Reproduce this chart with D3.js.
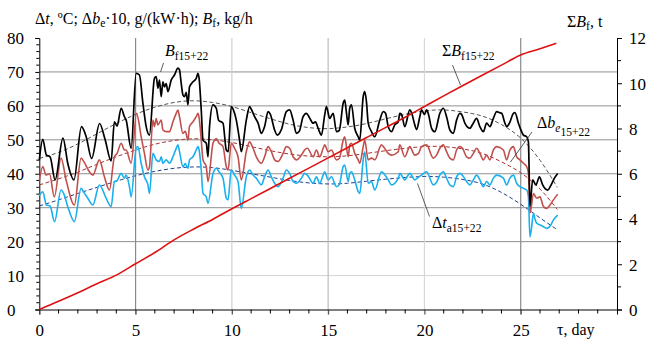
<!DOCTYPE html>
<html><head><meta charset="utf-8">
<script src="https://cdn.jsdelivr.net/npm/d3@7"></script>
<style>
html,body{margin:0;padding:0;background:#fff;}
svg text, svg tspan{font-family:"Liberation Serif","Times New Roman","DejaVu Serif",serif !important;}
</style></head>
<body>
<svg id="c" width="664" height="343" font-family="Liberation Serif, serif"></svg>
<script>
// ---------- DATA ----------
const xTicks = [0,5,10,15,20,25];
const yTicks = [0,10,20,30,40,50,60,70,80];
const yRTicks = [0,2,4,6,8,10,12];

// B_f (kg/h) black
const bDay = [0,0.18,0.37,0.56,0.82,1.23,1.48,1.80,2.19,2.43,
2.72,3.13,3.42,3.73,3.90,4.04,4.25,4.42,4.51,4.77,
5.03,5.20,5.38,5.55,5.72,5.98,6.07,6.16,6.24,6.33,
6.42,6.50,6.59,6.68,6.85,7.02,7.20,7.28,7.37,7.46,
7.54,7.63,7.72,7.80,7.98,8.15,8.24,8.30,8.41,8.50,
8.67,8.76,8.84,9.02,9.19,9.31,9.54,9.71,9.81,9.97,
10.14,10.23,10.40,10.49,10.75,10.92,11.01,11.18,11.36,11.53,
11.70,11.88,12.00,12.22,12.36,12.57,12.83,13.00,13.18,13.35,
13.50,13.70,13.87,14.03,14.22,14.34,14.48,14.65,14.82,14.91,
15.08,15.26,15.43,15.58,15.78,15.86,15.95,16.04,16.12,16.21,
16.38,16.56,16.64,16.82,16.90,16.99,17.08,17.25,17.42,17.68,
17.86,17.98,18.12,18.29,18.46,18.64,18.72,18.81,18.98,19.24,
19.33,19.50,19.59,19.76,19.85,20.00,20.11,20.21,20.37,20.54,
20.80,20.98,21.15,21.32,21.50,21.67,21.84,21.93,22.10,22.36,
22.50,22.71,22.88,23.06,23.23,23.40,23.58,23.75,23.90,24.01,
24.18,24.27,24.42,24.62,24.70,24.88,25.00,25.14,25.31,25.40,
25.48,25.62,25.79,25.97,26.14,26.40,26.56,26.75,26.92];
const bVal = [44,50.1,45.5,45,38.2,50.5,43,38.2,53.9,51,
44.5,54.8,50,43.8,55.3,54,59.3,56.8,55.8,47.5,
69.6,69.1,60.8,53.9,51.4,68.1,68.6,65.2,67.6,62.7,
67.1,65.6,66.6,64.2,67.6,69.1,71.1,70.6,66.6,63.2,
62.7,64,60.3,65.6,67.1,68.1,69.6,68,58.8,49.9,
49,45,53.9,60.3,59.3,55.8,54.9,47,46.5,59.8,
57.8,55.8,49.9,46.5,55.8,59.8,59,56.8,54.9,51.9,
53.9,58.3,57.5,52.9,51.4,53,58.3,58.8,55.8,51.9,
52.5,56.8,57.8,56.5,54.9,55.3,53.4,51.4,57.3,59.8,
56.3,57.8,52.4,52.8,60.8,61.7,58,54.4,59.3,60.3,
53.4,50.9,49.9,62.7,64.2,61.2,54.9,52.4,50.9,55.8,
58.3,57.8,53.9,52.4,54.4,55.3,57.8,57.5,53.9,58.8,
58,54.4,53,56.8,58.8,57.5,58.8,57.5,53.4,52.4,
57.8,59.3,56.8,52.9,51.9,55.8,57.8,57.5,54.9,53.4,
54.5,56.3,53.9,52.4,54.9,53.9,56.3,58.3,58,57.8,
54.9,53.9,55,57.8,58,54.9,53,51.4,50.9,49.4,
30.5,38.2,36.7,39.1,36.7,35.2,36.5,38.7,40.1];

// Δb_e·10 red
const rDay = [0,0.18,0.35,0.53,0.78,1.13,1.39,1.82,2.17,2.32,
2.60,2.78,3.12,3.38,3.64,3.90,4.04,4.25,4.42,4.51,
4.77,5.05,5.29,5.46,5.64,5.72,5.90,5.98,6.07,6.16,
6.33,6.42,6.59,6.76,6.94,7.11,7.20,7.28,7.46,7.58,
7.72,7.80,7.98,8.15,8.24,8.30,8.41,8.50,8.67,8.76,
9.02,9.10,9.19,9.34,9.54,9.71,9.80,9.97,10.14,10.32,
10.49,10.75,10.92,11.10,11.27,11.53,11.70,11.88,12.05,12.22,
12.40,12.66,12.83,13.00,13.18,13.35,13.61,13.78,13.92,14.22,
14.39,14.56,14.74,14.82,15.00,15.17,15.43,15.58,15.78,15.86,
16.04,16.12,16.21,16.38,16.56,16.64,16.82,16.90,17.08,17.25,
17.42,17.77,17.93,18.12,18.29,18.64,18.72,18.98,19.24,19.50,
19.69,19.85,20.11,20.46,20.63,20.80,20.98,21.15,21.32,21.50,
21.67,21.84,21.98,22.19,22.36,22.54,22.71,22.88,23.06,23.23,
23.40,23.58,23.75,24.10,24.27,24.44,24.62,24.79,24.96,25.14,
25.31,25.40,25.49,25.66,25.83,26.00,26.18,26.35,26.52,26.70,
26.92];
const rVal = [38,42.1,39.6,40,33.2,44.6,38.2,30.8,44.6,43.5,
40.6,39.6,44.1,39.1,35.2,45,46,49,47,47,
43.1,57.8,50.9,46,41.1,42,55.8,53.9,56.3,54.4,
55.8,52.9,52.4,52.4,55.3,57.8,58.8,56.8,51.9,52.5,
49.9,53.9,55.3,56.8,57.8,56.5,49.9,44.1,42.1,37.7,
49,49.9,50.4,49,48,42.1,41.1,49,47.5,45,
38.2,46.5,49.4,47.5,45,43.1,45,48,46.5,44.1,
43.6,46,48,47.5,45,44.1,45.5,47,47.5,45,
47,45,47.5,48.5,46.5,47,44.1,44.5,49.9,50.9,
45,48.5,49,46,44.1,43.1,48,49.9,44.1,44.6,
44.1,48.5,47.5,46,45.5,46.5,48.5,45,48,45.5,
46,48,48.5,44.6,45.5,47.5,48.5,46.5,44.6,44.1,
47,48,47.5,45,44.6,46,47.5,46,44.1,45.5,
44.1,47,48,47,44.1,47,48,45,44.1,43.1,
42.1,40.1,28.5,34.2,32.8,33.2,30.3,29.8,30.8,32.3,
34];

// Δt_a blue
const tDay = [0,0.18,0.37,0.56,0.79,1.13,1.28,1.48,1.82,2.17,
2.32,2.52,2.78,3.12,3.47,3.73,3.90,4.04,4.25,4.42,
4.51,4.68,4.77,5.03,5.12,5.29,5.46,5.64,5.72,5.90,
6.07,6.24,6.33,6.42,6.59,6.76,6.94,7.11,7.20,7.28,
7.46,7.58,7.72,7.80,7.98,8.15,8.24,8.30,8.41,8.50,
8.67,8.76,9.02,9.10,9.19,9.34,9.54,9.71,9.80,9.97,
10.14,10.32,10.49,10.75,10.92,11.10,11.27,11.53,11.70,11.88,
12.05,12.22,12.40,12.66,12.83,13.00,13.18,13.35,13.61,13.78,
13.92,14.22,14.39,14.56,14.74,14.82,15.00,15.17,15.43,15.58,
15.78,15.86,16.04,16.12,16.21,16.38,16.56,16.64,16.82,16.90,
17.08,17.25,17.42,17.77,17.93,18.12,18.29,18.64,18.72,18.98,
19.24,19.50,19.69,19.85,20.11,20.46,20.63,20.80,20.98,21.15,
21.32,21.50,21.67,21.84,21.98,22.19,22.36,22.54,22.71,22.88,
23.06,23.23,23.40,23.58,23.75,24.10,24.27,24.44,24.62,24.79,
24.96,25.14,25.31,25.40,25.48,25.57,25.66,25.75,25.83,26.00,
26.18,26.35,26.52,26.70,26.92];
const tVal = [33.5,34.7,30.8,30.5,25.9,35.2,34,30.3,25.9,35.7,
34.5,32.8,30.8,36.7,32.8,30.3,37.7,38,40.1,38.7,
39.6,36.2,33.2,47.5,48,43.1,39.1,36.7,34.2,46,
44.1,43.6,45,43.1,44.1,43.1,45,47.5,48.5,46.5,
42.1,43,41.6,44.1,45,47,48,47,41.1,34.2,
33.2,31.3,40.1,41.1,41.6,40.5,38.7,32.8,32.3,41.1,
39.6,37.7,29.8,39.1,41.1,39.6,38.7,36.7,39.1,41.1,
39.1,37.2,36.2,38.7,41.1,40.1,37.7,37.2,38.7,40.1,
39.6,37.2,39.1,37.2,39.6,40.6,38.2,39.1,36.2,36.8,
42.1,42.6,37.7,40.1,40.6,38.2,34.7,34.2,44.1,46.5,
37.2,37.7,35.2,40.6,39.8,38.2,36.7,38.7,40.1,38.2,
40.1,38.2,39,39.6,40.6,36.7,37.5,39.6,40.6,38.7,
36.7,36.2,39.1,40.1,39.5,37.7,36.7,38.2,39.6,38.2,
36.2,37.7,36.7,38.7,39.6,38.7,36.7,38.7,39.6,37.2,
36.2,35.7,35.2,33.2,21.4,24.4,28.3,26.5,25.4,24.9,
24.4,23.9,24.5,26.4,27.8];

// trend (dashed) curves
const trendDay = [0,1,2,3,4,5,6,7,8,9,10,11,12,13,14,15,16,17,18,19,20,21,22,23,24,25,26,26.9];
const bTrend = [44.5,46.3,48.8,51.8,54.8,57.5,59.6,61,61.5,61,59.8,58,56.2,54.6,53.6,53.3,53.8,54.8,56.2,57.5,58.5,58.8,58.2,57,54.5,50.5,44,36];
const rTrend = [36.7,38.5,40.5,42.8,45,47,48.7,49.8,50.3,50,49.2,48,46.8,45.8,45.2,45,45.3,46,46.8,47.5,48,48,47.3,46,43.5,40.3,35.5,29.5];
const tTrend = [30.5,32.3,34.2,36,37.8,39.4,40.7,41.6,42,41.8,41,40,39,38,37.3,37,37.2,37.8,38.4,38.9,39.2,39,38.3,37,34.5,31,27,23.5];

// cumulative ΣB_f (t), right axis
const sumDay = [0,1,2,3,4,5,6,7,8,9,10,11,12,13,14,15,16,17,18,19,20,21,22,23,24,25,26,26.85];
const sumVal = [0,0.36,0.74,1.14,1.52,2.02,2.52,3.08,3.55,3.98,4.45,4.9,5.35,5.8,6.25,6.7,7.15,7.6,8.05,8.5,8.97,9.44,9.9,10.35,10.8,11.25,11.52,11.77];

// ---------- CHART ----------
const FONT = "Liberation Serif, Times New Roman, serif";
const svg = d3.select("#c");
svg.append("rect").attr("width",664).attr("height",343).attr("fill","#fff");
const L = 39.3, R = 617, T = 38, B = 309.5;
const x = d3.scaleLinear().domain([0,30]).range([L,R]);
const y = d3.scaleLinear().domain([0,80]).range([B,T]);
const yR = d3.scaleLinear().domain([0,12]).range([B,T]);

// gridlines
const g = svg.append("g");
[10,20,30,40,50,60,70].forEach(v=>{
  g.append("line").attr("x1",L).attr("x2",R).attr("y1",y(v)).attr("y2",y(v))
   .attr("stroke", v===10 ? "#d4d4d4" : "#8f8f8f").attr("stroke-width",1);
});
const vgCol = {5:"#8a8a8a",10:"#d0d0d0",15:"#bcbcbc",20:"#d8d8d8",25:"#8a8a8a"};
[5,10,15,20,25].forEach(d=>{
  g.append("line").attr("x1",x(d)).attr("x2",x(d)).attr("y1",T).attr("y2",B+5)
   .attr("stroke", vgCol[d]).attr("stroke-width",1.2);
});

// axes
const fs = 17;
const ax = svg.append("g").attr("transform",`translate(0,${B})`)
  .call(d3.axisBottom(x).tickValues(xTicks).tickSize(5).tickFormat(d3.format("d")));
ax.attr("font-family",FONT);
ax.select(".domain").attr("stroke","#000");
ax.selectAll("text").attr("y",26).attr("dy",0).attr("font-size",fs).attr("font-family",FONT).attr("fill","#000");
ax.selectAll("line").attr("stroke","#444");
d3.range(1,31).filter(d=>d%5!==0).forEach(d=>{
  svg.append("line").attr("x1",x(d)).attr("x2",x(d)).attr("y1",B).attr("y2",B+4).attr("stroke","#000");
});

const ayl = svg.append("g").attr("transform",`translate(${L},0)`)
  .call(d3.axisLeft(y).tickValues(yTicks).tickSize(4));
ayl.attr("font-family",FONT);
ayl.select(".domain").attr("stroke","#000");
ayl.selectAll("text").attr("x",7-L).attr("text-anchor","start").attr("dy","0.35em").attr("font-size",fs).attr("font-family",FONT).attr("fill","#000");
d3.range(2,80,2).filter(v=>v%10!==0).forEach(v=>{
  svg.append("line").attr("x1",L-3).attr("x2",L).attr("y1",y(v)).attr("y2",y(v)).attr("stroke","#000");
});

const ayr = svg.append("g").attr("transform",`translate(${R},0)`)
  .call(d3.axisRight(yR).tickValues(yRTicks).tickSize(5));
ayr.attr("font-family",FONT);
ayr.select(".domain").attr("stroke","#000");
ayr.selectAll("text").attr("x",12).attr("dy","0.35em").attr("font-size",fs).attr("font-family",FONT).attr("fill","#000");
[1,3,5,7,9,11].forEach(v=>{
  svg.append("line").attr("x1",R).attr("x2",R+4).attr("y1",yR(v)).attr("y2",yR(v)).attr("stroke","#000");
});

// lines
const mk = (ds, vs) => ds.map((d,i)=>[d, vs[i]]);
const line = d3.line().x(p=>x(p[0])).y(p=>y(p[1])).curve(d3.curveMonotoneX);
const lineN = d3.line().x(p=>x(p[0])).y(p=>y(p[1])).curve(d3.curveNatural);
const lineR = d3.line().x(p=>x(p[0])).y(p=>yR(p[1])).curve(d3.curveMonotoneX);

svg.append("path").attr("d", lineN(mk(trendDay,bTrend))).attr("fill","none").attr("stroke","#555").attr("stroke-width",1).attr("stroke-dasharray","4,2.5");
svg.append("path").attr("d", lineN(mk(trendDay,rTrend))).attr("fill","none").attr("stroke","#a83232").attr("stroke-width",1).attr("stroke-dasharray","4,2.5");
svg.append("path").attr("d", lineN(mk(trendDay,tTrend))).attr("fill","none").attr("stroke","#24408e").attr("stroke-width",1).attr("stroke-dasharray","4,2.5");

svg.append("path").attr("d", line(mk(tDay,tVal))).attr("fill","none").attr("stroke","#1ab0ee").attr("stroke-width",1.6).attr("stroke-linejoin","round");
svg.append("path").attr("d", line(mk(rDay,rVal))).attr("fill","none").attr("stroke","#c0504d").attr("stroke-width",1.6).attr("stroke-linejoin","round");
svg.append("path").attr("d", line(mk(bDay,bVal))).attr("fill","none").attr("stroke","#000").attr("stroke-width",1.7).attr("stroke-linejoin","round");
svg.append("path").attr("d", lineR(mk(sumDay,sumVal))).attr("fill","none").attr("stroke","#dd1111").attr("stroke-width",1.6);

// ---------- TEXT ----------
function rich(xp, yp, parts, size, anchor){
  const t = svg.append("text").attr("x",xp).attr("y",yp).attr("font-size",size)
    .attr("font-family",FONT).attr("fill","#000");
  if (anchor) t.attr("text-anchor",anchor);
  parts.forEach(p=>{
    const s = t.append("tspan").text(p.t);
    if (p.i) s.attr("font-style","italic");
    if (p.sub){ s.attr("font-size", size*0.72).attr("dy", p.dy||4); }
    else if (p.dy) s.attr("dy", p.dy);
  });
  return t;
}
// title left
rich(35, 24, [{t:"Δ"},{t:"t",i:1},{t:", ºC; Δ"},{t:"b",i:1},{t:"e",sub:1,dy:3},{t:"·10, g/(kW·h); ",dy:-3},{t:"B",i:1},{t:"f",sub:1,dy:3},{t:", kg/h",dy:-3}], 16);
// title right
rich(567, 27, [{t:"Σ"},{t:"B",i:1},{t:"f",sub:1,dy:3},{t:", t",dy:-3}], 16);
// x label
rich(557, 335, [{t:"τ, day"}], 16);

// annotations
const leader = (x1,y1,x2,y2)=>svg.append("line").attr("x1",x1).attr("y1",y1).attr("x2",x2).attr("y2",y2).attr("stroke","#333").attr("stroke-width",0.8);
rich(165, 56, [{t:"B",i:1},{t:"f15+22",sub:1,dy:4}], 16);
leader(163.5,63,160.5,72);
rich(442, 56, [{t:"Σ"},{t:"B",i:1},{t:"f15+22",sub:1,dy:4}], 16);
leader(452.5,65,460.5,85);
rich(537, 128, [{t:"Δ"},{t:"b",i:1},{t:"e",sub:1,dy:4,i:1},{t:"15+22",sub:1,dy:0}], 16);
leader(532,132,510.5,162);
rich(432, 228, [{t:"Δ"},{t:"t",i:1},{t:"a15+22",sub:1,dy:4}], 16);
leader(429.5,216.5,417.5,183.5);
</script>
</body></html>
